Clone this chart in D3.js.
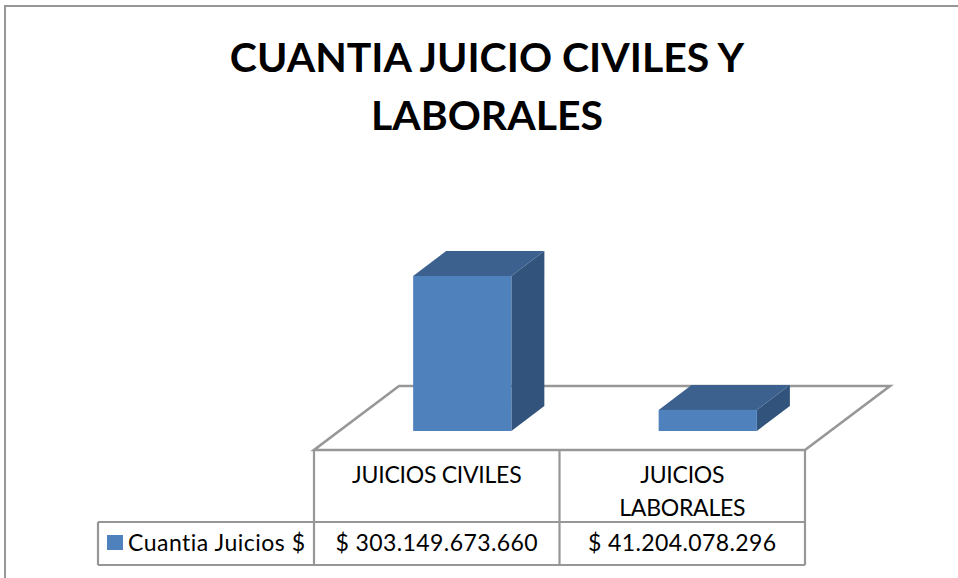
<!DOCTYPE html>
<html>
<head>
<meta charset="utf-8">
<script src="https://cdn.jsdelivr.net/npm/d3@7"></script>
<style>
  html, body { margin: 0; padding: 0; background: #fff; }
  svg { display: block; }
  text { font-family: Lato, "Open Sans", sans-serif; fill: #000; }
</style>
</head>
<body>
<svg id="chart"></svg>
<script>
const categories = [['JUICIOS CIVILES'], ['JUICIOS', 'LABORALES']];
const values = [303149673660, 41204078296];
const valueLabels = ['$ 303.149.673.660', '$ 41.204.078.296'];
const seriesName = 'Cuantia Juicios $';
const titleLines = ['CUANTIA JUICIO CIVILES Y', 'LABORALES'];

const width = 958, height = 578;
const gray = '#979797';

const svg = d3.select('#chart').attr('width', width).attr('height', height);

// Frame, only top and left show

svg.append('path')
  .attr('d', `M5,${height}V6H${width}`)
  .attr('fill', 'none')
  .attr('stroke', gray)
  .attr('stroke-width', 2);

// Title

svg.selectAll('.title')
  .data(titleLines)
  .join('text')
  .attr('class', 'title')
  .attr('x', 487)
  .attr('y', (d, i) => 72 + i * 58)
  .attr('text-anchor', 'middle')
  .attr('font-size', 41)
  .attr('font-weight', 700)
  .text(d => d);

// Scales

const cellX = d3.scaleBand().domain(d3.range(2)).range([314, 805]);
const barX = d3.scaleBand().domain(d3.range(2))
  .range([339.5, 830.5]) // bars sit in the middle of the floor depth
  .paddingInner(0.6)
  .paddingOuter(0.3);
const y = d3.scaleLinear().domain([0, values[0]]).range([431, 276]);

const depthX = 33, depthY = -25;

// Floor

const floorDepthX = 85, floorDepthY = -64;
const floorFront = 450;
const [x0, x1] = cellX.range();
svg.append('path')
  .attr('d', d3.line()([
    [x0, floorFront], [x1, floorFront],
    [x1 + floorDepthX, floorFront + floorDepthY],
    [x0 + floorDepthX, floorFront + floorDepthY],
  ]) + 'Z')
  .attr('fill', '#fff')
  .attr('stroke', gray)
  .attr('stroke-width', 2.6);

// Bars

const bars = svg.selectAll('.bar')
  .data(values)
  .join('g')
  .attr('class', 'bar');

// right side
bars.append('path')
  .attr('fill', '#32537b')
  .attr('d', (d, i) => {
    const r = barX(i) + barX.bandwidth();
    return d3.line()([
      [r, y(0)], [r, y(d)],
      [r + depthX, y(d) + depthY], [r + depthX, y(0) + depthY],
    ]) + 'Z';
  });

// top
bars.append('path')
  .attr('fill', '#3c618f')
  .attr('d', (d, i) => {
    const l = barX(i), r = l + barX.bandwidth();
    return d3.line()([
      [l, y(d)], [r, y(d)],
      [r + depthX, y(d) + depthY], [l + depthX, y(d) + depthY],
    ]) + 'Z';
  });

// front
bars.append('rect')
  .attr('fill', '#4f81bd')
  .attr('x', (d, i) => barX(i))
  .attr('y', d => y(d))
  .attr('width', barX.bandwidth())
  .attr('height', d => y(0) - y(d));

// Data table

const rowTop = 522, tableBottom = 565, legendLeft = 98;
const grid = d3.path();
d3.range(3).forEach(i => {
  const gx = i < 2 ? cellX(i) : x1;
  grid.moveTo(gx, floorFront);
  grid.lineTo(gx, tableBottom);
});
grid.moveTo(legendLeft, rowTop);
grid.lineTo(x1, rowTop);
grid.moveTo(legendLeft, tableBottom);
grid.lineTo(x1, tableBottom);
grid.moveTo(legendLeft, rowTop);
grid.lineTo(legendLeft, tableBottom);

svg.append('path')
  .attr('d', grid.toString())
  .attr('fill', 'none')
  .attr('stroke', gray)
  .attr('stroke-width', 2.2);

const fontSize = 23;
const cellMid = i => cellX(i) + cellX.bandwidth() / 2;

categories.forEach((lines, i) => {
  svg.selectAll(`.cat${i}`)
    .data(lines)
    .join('text')
    .attr('class', `cat${i}`)
    .attr('x', cellMid(i))
    .attr('y', (d, j) => 483 + j * 33)
    .attr('text-anchor', 'middle')
    .attr('font-size', fontSize)
    .attr('letter-spacing', -0.25)
    .text(d => d);
});

svg.selectAll('.val')
  .data(valueLabels)
  .join('text')
  .attr('class', 'val')
  .attr('x', (d, i) => cellMid(i))
  .attr('y', 551)
  .attr('text-anchor', 'middle')
  .attr('font-size', fontSize)
  .attr('letter-spacing', 0.4)
  .text(d => d);

// Legend key

svg.append('rect')
  .attr('x', 107).attr('y', 535)
  .attr('width', 16).attr('height', 15)
  .attr('fill', '#4f81bd');

svg.append('text')
  .attr('x', 128)
  .attr('y', 551)
  .attr('font-size', fontSize)
  .attr('letter-spacing', 0.5)
  .text(seriesName);
</script>
</body>
</html>
